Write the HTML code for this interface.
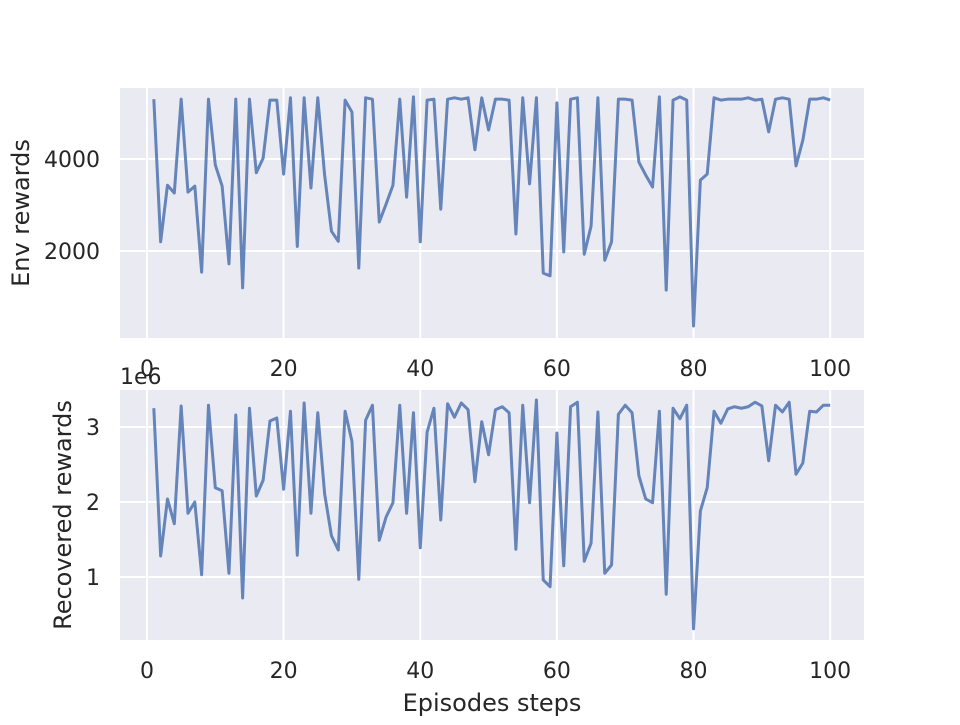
<!DOCTYPE html>
<html><head><meta charset="utf-8"><style>
body{margin:0;background:#fff;font-family:"Liberation Sans","DejaVu Sans",sans-serif;}
svg text{font-family:"DejaVu Sans","Liberation Sans",sans-serif;fill:#262626;}
</style></head><body>
<svg id="c" width="960" height="720" viewBox="0 0 960 720"></svg>
<script>
const episodes = Array.from({length:100},(_,i)=>i+1);
const envRewards = [5300,2200,3430,3260,5300,3280,3410,1540,5300,3870,3410,1720,5300,1200,5300,3700,4020,5280,5280,3670,
5330,2100,5330,3370,5330,3650,2430,2210,5280,5020,1630,5330,5300,2630,3020,3430,5300,3170,5350,2200,
5280,5300,2910,5300,5330,5300,5330,4200,5330,4630,5300,5300,5280,2370,5330,3460,5330,1520,1460,5220,
1980,5300,5330,1930,2540,5330,1800,2200,5300,5300,5280,3930,3650,3390,5350,1150,5280,5350,5280,370,
3540,3670,5330,5280,5300,5300,5300,5330,5280,5300,4590,5300,5330,5300,3850,4410,5300,5300,5330,5280];
const recRewards = [3.25,1.28,2.04,1.71,3.28,1.85,2.0,1.03,3.29,2.19,2.15,1.05,3.16,0.72,3.25,2.08,2.29,3.08,3.12,2.17,
3.21,1.29,3.32,1.85,3.19,2.11,1.55,1.36,3.21,2.81,0.97,3.09,3.29,1.49,1.8,1.99,3.29,1.85,3.19,1.39,
2.93,3.25,1.76,3.31,3.13,3.32,3.23,2.27,3.07,2.63,3.23,3.27,3.19,1.37,3.29,1.99,3.36,0.96,0.87,2.92,
1.15,3.27,3.33,1.21,1.45,3.2,1.05,1.16,3.17,3.29,3.19,2.35,2.04,1.99,3.21,0.77,3.25,3.11,3.29,0.31,
1.88,2.19,3.21,3.05,3.24,3.27,3.25,3.27,3.33,3.28,2.55,3.29,3.2,3.33,2.37,2.52,3.21,3.2,3.29,3.29];
const xTicks = [0,20,40,60,80,100];
const topYTicks = [2000,4000];
const botYTicks = [1,2,3];

const NS="http://www.w3.org/2000/svg";
const svg=document.getElementById('c');
function mk(tag,attrs,parent){const e=document.createElementNS(NS,tag);for(const k in attrs)e.setAttribute(k,attrs[k]);(parent||svg).appendChild(e);return e;}
const L=120,R=864;
const xs=v=>L+(v-(-3.95))/(108.9)*(R-L);

function panel(name,top,bot,ymin,ymax,data,yTicks,ylabel,fmt){
  const ys=v=>bot-(v-ymin)/(ymax-ymin)*(bot-top);
  const g=mk('g',{});
  
  
  const bg=mk('rect',{x:L,y:top,width:R-L,height:bot-top,fill:'#eaeaf2'},g);
  
  
  xTicks.forEach(t=>{
    const ln=mk('line',{x1:xs(t),x2:xs(t),y1:top,y2:bot,stroke:'#fff','stroke-width':2},g);
    
    
    const tx=mk('text',{x:xs(t),y:bot+38,'text-anchor':'middle','font-size':22},g);
    tx.textContent=t;
    
    
  });
  yTicks.forEach(t=>{
    const ln=mk('line',{x1:L,x2:R,y1:ys(t),y2:ys(t),stroke:'#fff','stroke-width':2},g);
    
    
    const tx=mk('text',{x:L-20,y:ys(t)+8,'text-anchor':'end','font-size':22},g);
    tx.textContent=fmt(t);
    
    
  });
  const pts=data.map((v,i)=>xs(episodes[i]).toFixed(2)+','+ys(v).toFixed(2)).join(' ');
  const pl=mk('polyline',{points:pts,fill:'none',stroke:'#4c72b0','stroke-opacity':0.85,'stroke-width':3,'stroke-linejoin':'round'},g);
  
  
  const cy=(top+bot)/2;
  const yl=mk('text',{x:0,y:0,'text-anchor':'middle','font-size':24,transform:`translate(${ylabel[1]},${cy}) rotate(-90)`},g);
  yl.textContent=ylabel[0];
  
  
}
panel('env-rewards-plot',88,338,109,5543,envRewards,topYTicks,['Env rewards',29],t=>t);
panel('recovered-rewards-plot',390,640,0.16,3.493,recRewards,botYTicks,['Recovered rewards',71],t=>t);
const off=mk('text',{x:120,y:384,'font-size':22});
off.textContent='1e6';


const xl=mk('text',{x:492,y:711,'text-anchor':'middle','font-size':24});
xl.textContent='Episodes steps';


</script>
</body></html>
